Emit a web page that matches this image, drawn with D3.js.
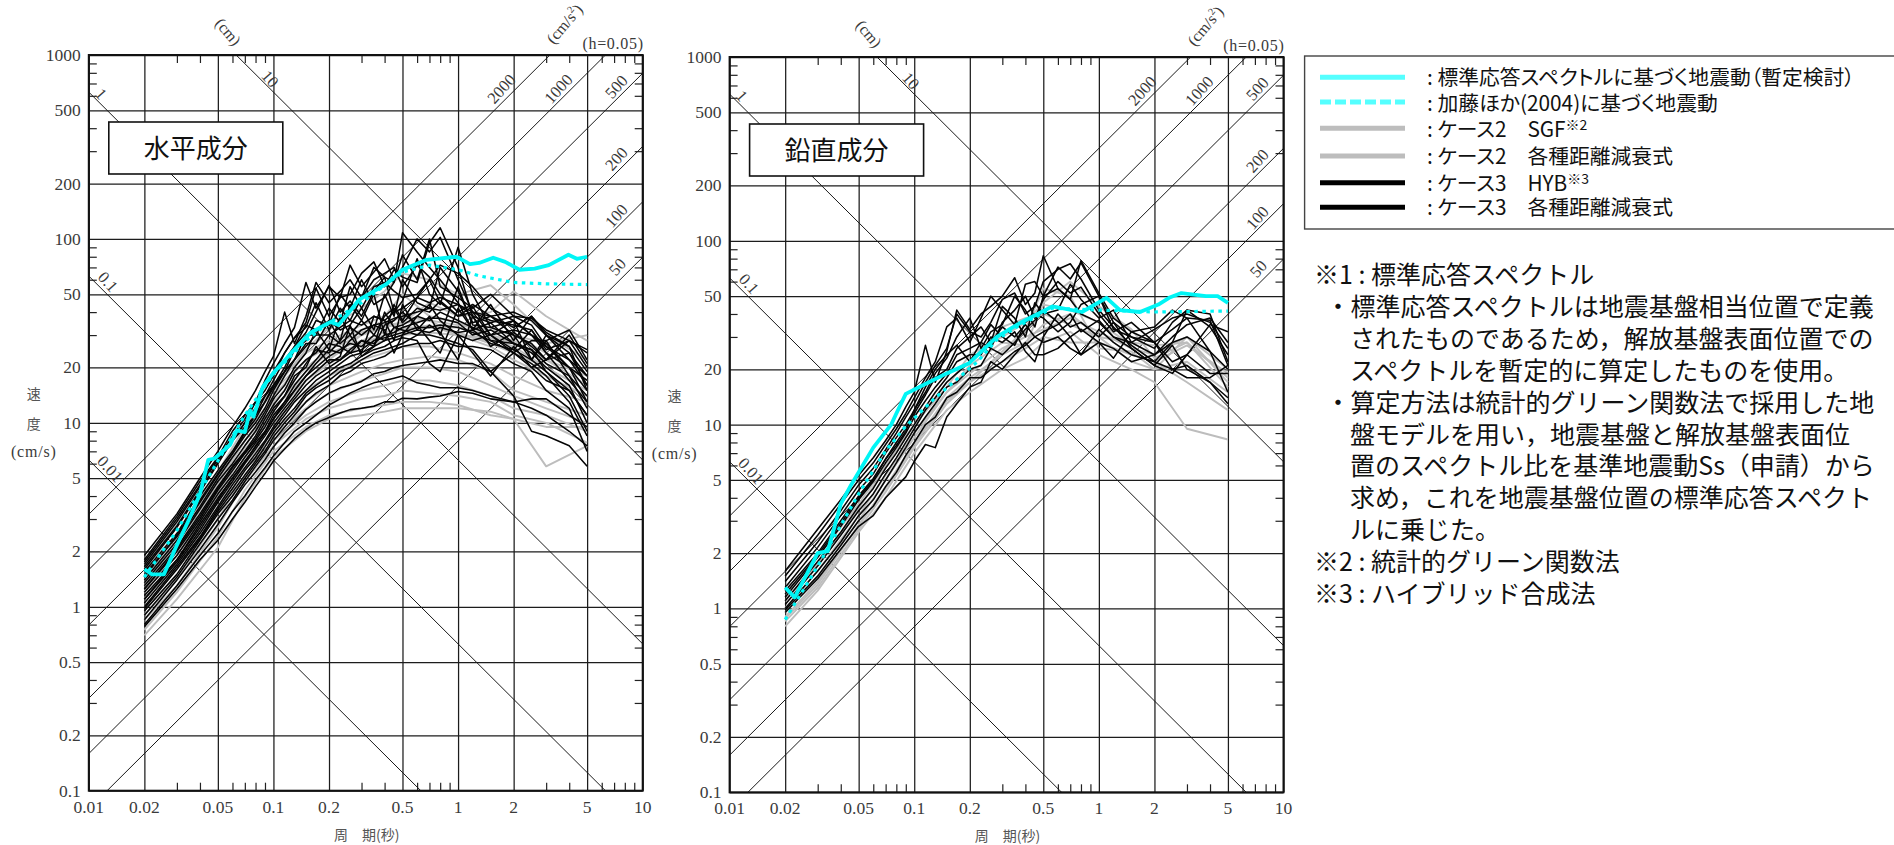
<!DOCTYPE html>
<html><head><meta charset="utf-8">
<script src="https://cdn.jsdelivr.net/npm/d3@7"></script>
<style>
html,body{margin:0;padding:0;background:#fff;overflow:hidden}
svg{display:block}
.num{font-family:"Liberation Serif",serif;fill:#3a3a3a}
.jp{font-family:"Noto Sans CJK JP",sans-serif;fill:#111}
.axis-t{font-family:"Noto Sans CJK JP",sans-serif;fill:#555;font-size:14px}
</style></head><body>
<svg id="c" width="1894" height="845"></svg>
<script>
// ---------- axis data ----------
const xMajor=[0.01,0.02,0.05,0.1,0.2,0.5,1,2,5,10];
const xMinor=[0.03,0.04,0.06,0.07,0.08,0.09,0.3,0.4,0.6,0.7,0.8,0.9,3,4,6,7,8,9];
const yMajor=[0.1,0.2,0.5,1,2,5,10,20,50,100,200,500,1000];
const yMinor=[0.3,0.4,0.6,0.7,0.8,0.9,3,4,6,7,8,9,30,40,60,70,80,90,300,400,600,700,800,900];
const accelLines=[2000,1000,500,200,100,50];
const dispLines=[0.01,0.1,1,10];
const periodsFine=[.02,.03,.04,.05,.06,.07,.08,.09,.1,.115,.13,.15,.17,.2,.23,.26,.3,.35,.4,.45,.5,.6,.7,.8,1,1.2,1.5,2,2.5,3,4,5];
const periodsCoarse=[.02,.03,.05,.07,.1,.15,.2,.3,.4,.5,.7,1,1.5,2,3,5];

// ---------- horizontal panel ----------
const hBlack=[
[1.9,3.2,5,7,9.5,12,15,19,23,40,27,38,58,45,52,60,48,70,62,58,108,85,70,60,45,32,35,27,25,19,15,11],
[1.8,3.1,4.8,6.5,9,11,13,17,21,27,33,58,42,55,48,72,55,66,78,60,70,100,85,102,60,40,30,36,30,24,17,13],
[1.7,2.9,4.5,6.3,8,10,13,15,18,24,29,35,54,38,48,50,65,75,55,68,62,58,95,115,70,38,28,24,28,28,18,14],
[1.6,2.7,4.2,6,8,9.5,11,14,17,22,26,31,40,56,40,46,38,52,62,40,46,78,50,44,90,50,33,30,22,30,24,16],
[1.55,2.5,4,5.5,7,9,11,13,16,19,25,28,36,34,50,42,60,44,48,58,82,60,100,55,48,42,50,38,34,26,20,17],
[1.5,2.4,3.7,5.2,6.8,8.5,10,12,15,19,22,30,30,42,35,55,42,32,50,38,60,45,42,70,52,35,38,40,36,30,22,18],
[1.4,2.3,3.5,5,6.5,8,9.5,11.5,14,18,22,27,27,36,28,44,36,50,30,44,36,48,60,45,38,43,30,25,32,25,28,20],
[1.35,2.2,3.4,4.8,6,7.5,9,11,13.5,16,20,24,32,25,38,30,24,38,36,28,44,32,38,30,55,34,33,36,22,28,32,22],
[1.3,2.1,3.2,4.5,5.8,7,8.5,10.5,12.5,15,19,22,24,30,27,30,36,30,38,42,35,42,40,46,38,40,36,34,32,24,20,13],
[1.25,2,3,4.3,5.5,6.8,8,9.5,11.5,14,17,21,25,24,28,33,30,34,32,24,30,38,44,36,30,24,18,26,20,22,28,24],
[1.2,1.9,2.9,4.1,5.2,6.5,7.8,9,11,13,16,19,22,27,26,24,28,26,34,36,40,34,28,24,42,32,44,28,38,30,26,15],
[1.15,1.8,2.8,3.9,5,6.2,7.4,8.8,10.5,13,15,18,20,23,25,27,26,30,28,33,34,38,36,40,36,33,30,32,30,26,22,16],
[1.1,1.75,2.6,3.7,4.8,6,7.2,8.5,10,12,14,17,19,22,22,25,28,27,30,31,33,35,37,37,35,30,32,27,24,20,16,10],
[1.05,1.7,2.5,3.5,4.6,5.7,6.8,8,9.5,11.5,13.5,16,18,20,22,24,25,28,29,30,31,33,33,34,33,31,28,27,25,21,18,12],
[1,1.65,2.4,3.4,4.4,5.5,6.5,7.8,9.2,11,13,15,17,19,21,23,24,26,28,29,30,32,31,33,31,32,27,25,22,19,14,9],
[.98,1.6,2.35,3.3,4.2,5.2,6.2,7.4,8.8,10.5,12,14.5,16,18,20,21,23,25,26,28,29,28,21,19,30,28,30,24,20,17,15,11],
[.95,1.5,2.3,3.2,4,5,6,7,8.4,10,11.5,14,15.5,17,19,20,22,24,25,26,27,30,30,29,27,25,19,24,21,18,13,8.5],
[.9,1.45,2.2,3,3.8,4.8,5.8,6.8,8,9.5,11,13,14.5,16,18,19,21,22,23,25,26,27,27,28,26,26,25,21,19,15,12,7],
[.8,1.3,1.9,2.5,3.3,4,4.9,5.7,6.6,7.8,9,10,11,12.5,13.5,14.5,15.5,16.5,17,17.5,18,16.5,16,15.5,15.5,15,14,13,12,11,9,7.5],
[.78,1.25,1.8,2.3,3,3.7,4.5,5.3,6.2,7.2,8.2,9.2,10,10.7,11.3,11.8,12,12.3,13,13,13.6,13.5,13.8,14,14.8,14.5,13.5,13,13.5,13.5,11,9.5],
[.85,1.4,2.05,2.8,3.7,4.6,5.4,6.3,7.4,8.8,10,11.8,13,14.5,15.5,16,16.8,18.5,19,20,20.5,21,21.5,22,21,21,19,14,9,8.5,7.5,5.8],
[1.45,2.45,3.8,5.3,6.8,8.8,10.5,13,15.5,19,22,26,30,30,33,36,34,38,36,40,42,48,45,48,44,40,38,30,27,22,24,18],
[1.65,2.75,4.3,6.1,8,10,12,14,16,20,26,34,32,36,32,34,42,55,58,52,48,50,60,72,65,55,42,36,30,27,20,15],
[1.75,3,4.6,6.4,8.5,10.5,13,16,19,24,29,33,45,32,42,36,48,60,65,70,55,72,62,50,40,44,38,33,38,31,26,19],
[1.25,2.05,3.1,4.4,5.7,6.9,8.2,10,12,14,18,20,26,21,23,34,23,26,40,33,32,30,34,31,22,38,26,31,26,22,30,21],
[1.1,1.8,2.7,3.8,5,6.1,7.5,8.8,10.5,12.5,15,18,21,25,24,28,32,34,35,37,38,40,42,41,44,38,35,38,37,32,28,25]
];
const hGray=[
[.7,1.1,2.1,3.9,6.5,9,10.5,11,11.5,12,12,12,11.5,10.5,9.5,9.5],
[.75,1.2,2.4,4.3,7,9.5,11,12,12.5,13,13,12.5,11,10.5,5.8,7.5],
[.85,1.3,2.7,4.8,7.5,10.5,12,13.5,14,15,14.5,14,13,11,10,7.8],
[.9,1.4,3,5.2,8,11,13,15,16,17,17,16,14,12,11,9],
[1,1.6,3.2,5.6,8.5,12,14.5,17,18.5,20,20,19,16,14,12,10],
[1.1,1.7,3.5,6,9,13,16,19,21,22,23,22,19,15,13,11],
[1.2,1.9,3.8,6.5,10,15,18,22,24,26,26,24,21,18,15,13],
[1.3,2,4.2,7.2,11,17,21,26,28,30,31,30,26,22,18,14],
[1.4,2.2,4.6,8,12,19,24,28,31,33,33,31,27,24,20,15],
[1.5,2.4,5,8.5,14,22,26,31,34,38,36,30,29,26,20,15],
[1.6,2.5,5.4,9.5,16,24,28,34,38,50,38,35,30,27,22,18],
[1.55,2.4,5.2,9,15,25,33,42,52,65,60,50,56,44,30,22],
[1.7,2.8,6,10.5,15,22,27,32,36,32,34,30,28,30,27,30],
[1.2,2,4,7,11,17,22,30,34,35,45,38,40,52,38,28],
[1.45,2.3,4.8,8,13,20,25,30,33,35,36,34,32,30,24,17],
[1.35,2.1,4.4,7.5,12,18,23,27,30,32,33,33,30,28,22,16]
];
const hCyanT=[.02,.022,.0255,.0296,.035,.04,.0444,.048,.0583,.0633,.07,.0747,.078,.0876,.0995,.125,.158,.204,.225,.25,.29,.41,.5,.675,.98,1.16,1.3,1.55,1.8,2.15,2.6,3.1,3.96,4.4,5];
const hCyanV=[1.6,1.5,1.5,2.1,3,4.1,6.3,6.4,7.6,9.1,8.9,11.7,10.8,15.7,18.6,24,30.8,35.4,34,38.6,46.6,57,68,77,80,73,74,79,75,68,69,72,82,78,80];
const hDashT=[.02,.03,.05,.07,.1,.15,.2,.3,.5,.7,1,1.3,2,3,5];
const hDashV=[1.45,2.6,6.2,11,18.5,28,35,45,66,72,68,63,58,57,56.5];

// ---------- vertical panel ----------
const vBlack=[
[1.6,2.7,3.9,5.3,6.6,8.2,10,12.5,15,27,17,25,42,33,40,44,50,63,45,52,83,55,48,40,36,30,28,33,38,40,36,26],
[1.5,2.5,3.7,5,6.2,7.8,9.5,11.5,14,18,22,34,38,28,38,50,42,35,58,60,50,72,62,76,50,36,30,26,36,42,34,24],
[1.4,2.3,3.4,4.7,5.8,7.3,9,11,13,17,21,26,40,32,30,36,48,52,40,44,60,70,75,62,42,34,27,22,28,42,40,22],
[1.3,2.15,3.2,4.4,5.4,7,8.5,10,12,15,19,23,30,38,26,32,35,50,42,34,50,55,48,78,52,38,32,28,22,24,35,32],
[1.25,2,3,4.1,5.1,6.5,8,9.5,11.5,14.5,18,20,26,30,34,28,44,38,30,46,40,42,58,48,38,42,28,24,30,35,38,28],
[1.15,1.9,2.8,3.9,4.9,6.2,7.5,9,11,13.5,16,19,24,26,28,35,30,27,36,40,38,32,36,45,50,33,30,28,20,21,17,13],
[1.1,1.8,2.6,3.6,4.5,5.8,7,8.5,10,12.5,15,18,22,24,24,30,28,32,25,22,30,40,34,36,30,36,26,21,27,20,17,14],
[1.05,1.7,2.5,3.4,4.2,5.4,6.6,8,9.5,12,14,17,19,22,25,28,34,30,35,30,28,30,26,24,28,23,32,34,42,38,25,20],
[1,1.6,2.3,3.2,3.9,5,6.2,7.5,9,11,13,16,17,20,21,26,24,28,33,37,42,36,30,24,33,28,24,22,20,18,18,21],
[.98,1.5,2.2,3,3.6,4.6,5.5,6.8,8,10,11,14,15,18,18,20,22,25,27,30,32,35,40,32,37,30,26,21,19,24,19,19],
[.95,1.45,2.1,2.8,3.2,4,4.6,5.2,6.3,7.8,7.5,11,13,16,17,22,20,24,28,24,24,26,30,33,28,26,22,24,28,30,25,15],
[1.2,1.95,2.9,4,5,6.5,7.7,9.2,12,16,20,24,27,22,28,26,36,42,50,38,48,60,52,56,40,32,36,28,33,38,37,21]
];
const vGray=[
[.8,1.25,2.6,4,7,12,15,20,23,28,32,24,20,17,9.5,8.3],
[.85,1.3,2.7,4.3,7.5,13,17,22,26,30,28,28,24,22,17,12],
[.9,1.4,2.8,4.6,8,14,18,24,28,35,40,30,22,20,30,20],
[.95,1.5,3,5,8.5,15,19,26,30,33,38,32,26,24,30,17],
[1,1.6,3.2,5.3,9,15,21,28,27,45,42,36,27,22,27,19],
[1.1,1.75,3.5,5.8,10,16,24,30,36,46,60,44,33,23,28,18],
[1.2,1.9,3.7,6,10,17,22,34,38,40,35,30,28,27,28,16],
[.88,1.35,2.85,4.5,7.8,13.5,17,25,33,55,50,26,25,20,22,15]
];
const vCyanT=[.02,.0225,.03,.034,.04,.0455,.06,.075,.08,.09,.12,.15,.197,.28,.37,.56,.81,1.1,1.3,1.67,2.1,2.4,2.8,3.8,4.4,5];
const vCyanV=[1.3,1.15,2,2.05,3.7,4.7,7.5,10,11.5,14.7,17,19,21.5,30,35.5,44,41,49,42,41,45,49,52,50,50,46];
const vDashT=[.02,.03,.05,.07,.09,.13,.22,.28,.36,.56,1,2,5];
const vDashV=[.87,1.7,4.2,7.2,9.8,14,22,29,34,43,42,41,41.5];

// ---------- text ----------
const legendItems=[": 標準応答スペクトルに基づく地震動（暫定検討）",": 加藤ほか(2004)に基づく地震動",": ケース2　SGF",": ケース2　各種距離減衰式",": ケース3　HYB",": ケース3　各種距離減衰式"];
const legendSup=["","","※2","","※3",""];
const noteLines=["※1 : 標準応答スペクトル","・標準応答スペクトルは地震基盤相当位置で定義","されたものであるため，解放基盤表面位置での","スペクトルを暫定的に算定したものを使用。","・算定方法は統計的グリーン関数法で採用した地","盤モデルを用い，地震基盤と解放基盤表面位","置のスペクトル比を基準地震動Ss（申請）から","求め，これを地震基盤位置の標準応答スペクト","ルに乗じた。","※2 : 統計的グリーン関数法","※3 : ハイブリッド合成法"];
const noteIndent=[0,1,2,2,1,2,2,2,2,0,0];

// ---------- drawing ----------
const svg=d3.select("#c");
const CYAN="#00f5f5",GRAY="#bdbdbd",BLACK="#050505";

function panel(p,idx){
  const g=svg.append("g");
  const x=d3.scaleLog().domain([0.01,10]).range([p.x0,p.x1]);
  const y=d3.scaleLog().domain([0.1,1000]).range([p.y1,p.y0]);
  const w=p.x1-p.x0,h=p.y1-p.y0;
  const id="clip"+idx;
  svg.append("clipPath").attr("id",id).append("rect").attr("x",p.x0).attr("y",p.y0).attr("width",w).attr("height",h);

  const style=(a,col,sw)=>{a.select(".domain").remove();a.selectAll("text").remove();a.selectAll("line").attr("stroke",col).attr("stroke-width",sw);};
  style(g.append("g").attr("transform",`translate(0,${p.y1})`).call(d3.axisBottom(x).tickValues(xMajor).tickSize(-h)),"#1c1c1c",1.25);
  style(g.append("g").attr("transform",`translate(${p.x0},0)`).call(d3.axisLeft(y).tickValues(yMajor).tickSize(-w)),"#1c1c1c",1.25);
  style(g.append("g").attr("transform",`translate(0,${p.y1})`).call(d3.axisBottom(x).tickValues(xMinor).tickSize(-8)),"#222",1.2);
  style(g.append("g").attr("transform",`translate(0,${p.y0})`).call(d3.axisTop(x).tickValues(xMinor).tickSize(-8)),"#222",1.2);
  style(g.append("g").attr("transform",`translate(${p.x0},0)`).call(d3.axisLeft(y).tickValues(yMinor).tickSize(-8)),"#222",1.2);
  style(g.append("g").attr("transform",`translate(${p.x1},0)`).call(d3.axisRight(y).tickValues(yMinor).tickSize(-8)),"#222",1.2);

  const diag=g.append("g").attr("clip-path",`url(#${id})`).attr("stroke","#1a1a1a").attr("stroke-width",1).attr("fill","none");
  const line=d3.line().x(d=>x(d[0])).y(d=>y(d[1]));
  accelLines.forEach(a=>diag.append("path").attr("d",line([0.01,100].map(T=>[T,a*T/(2*Math.PI)]))));
  dispLines.forEach(D=>diag.append("path").attr("d",line([0.001,100].map(T=>[T,2*Math.PI*D/T]))));

  const s=g.append("g").attr("clip-path",`url(#${id})`).attr("fill","none").attr("stroke-linejoin","round");
  const draw=(Ts,vs,col,sw,dash)=>s.append("path").attr("d",line(Ts.map((t,i)=>[t,vs[i]]))).attr("stroke",col).attr("stroke-width",sw).attr("stroke-dasharray",dash||null);
  p.gray.forEach(v=>draw(periodsCoarse,v,GRAY,1.9));
  p.black.forEach(v=>draw(periodsFine,v,BLACK,1.55));
  draw(p.dashT,p.dashV,CYAN,3.2,"3.5,4.5");
  draw(p.cyanT,p.cyanV,CYAN,3.8);

  g.append("rect").attr("x",p.x0).attr("y",p.y0).attr("width",w).attr("height",h).attr("fill","none").attr("stroke","#111").attr("stroke-width",2);

  g.selectAll(".xl").data(xMajor).join("text").attr("class","num").attr("x",d=>x(d)).attr("y",p.y1+22).attr("text-anchor","middle").attr("font-size",17.5).text(d=>d);
  g.selectAll(".yl").data(yMajor).join("text").attr("class","num").attr("x",p.x0-8).attr("y",d=>y(d)+6).attr("text-anchor","end").attr("font-size",17.5).text(d=>d);

  const rot=(t,dx,dy,a,fs)=>g.append("text").attr("class","num").attr("font-size",fs||14).attr("text-anchor","middle").attr("dominant-baseline","middle").attr("transform",`translate(${p.x0+dx},${p.y0+dy}) rotate(${a})`).text(t);
  [["1",11,40],["10",180,25],["0.1",18,228],["0.01",20,415]].forEach(d=>rot(d[0],d[1],d[2],48,16.5));
  [["2000",414,35],["1000",471,35],["500",529,33],["200",529,105],["100",529,162],["50",530,213]].forEach(d=>rot(d[0],d[1],d[2],-48,16.5));
  rot("(cm)",138,-22,50,16);
  const top=g.append("text").attr("class","num").attr("font-size",16).attr("text-anchor","middle").attr("dominant-baseline","middle").attr("transform",`translate(${p.x0+477},${p.y0-30}) rotate(-50)`).text("(cm/s");
  top.append("tspan").attr("font-size",10).attr("dy",-5).text("2");
  top.append("tspan").attr("dy",5).text(")");
  g.append("text").attr("class","num").attr("font-size",16).attr("letter-spacing",.7).attr("text-anchor","end").attr("x",p.x1+1).attr("y",p.y0-6).text("(h=0.05)");

  g.append("text").attr("class","axis-t").attr("x",p.x0+278).attr("y",p.y1+49).attr("text-anchor","middle").text("周　期(秒)");
  g.append("text").attr("class","axis-t").attr("x",p.x0-55).attr("y",p.y0+344).attr("text-anchor","middle").text("速");
  g.append("text").attr("class","axis-t").attr("x",p.x0-55).attr("y",p.y0+374).attr("text-anchor","middle").text("度");
  g.append("text").attr("class","num").attr("font-size",16).attr("letter-spacing",.8).attr("x",p.x0-55).attr("y",p.y0+402).attr("text-anchor","middle").text("(cm/s)");

  g.append("rect").attr("x",p.x0+20).attr("y",p.y0+67).attr("width",174).attr("height",52).attr("fill","#fff").attr("stroke","#111").attr("stroke-width",1.6);
  g.append("text").attr("class","jp").attr("font-size",26).attr("x",p.x0+107).attr("y",p.y0+103).attr("text-anchor","middle").text(p.title);
}

panel({x0:88.8,x1:642.7,y0:55,y1:790.7,title:"水平成分",black:hBlack,gray:hGray,cyanT:hCyanT,cyanV:hCyanV,dashT:hDashT,dashV:hDashV},0);
panel({x0:729.6,x1:1283.5,y0:57,y1:792.3,title:"鉛直成分",black:vBlack,gray:vGray,cyanT:vCyanT,cyanV:vCyanV,dashT:vDashT,dashV:vDashV},1);

// legend
const lg=svg.append("g");
lg.append("rect").attr("x",1304.6).attr("y",56).attr("width",640).attr("height",173).attr("fill","#fff").attr("stroke","#444").attr("stroke-width",1.4);
const legY=[77.3,102,128.3,156,182.7,207.3];
const legTextY=[84.5,110.5,137,164,190.5,215];
const legCol=["#55ffff","#55ffff","#bdbdbd","#bdbdbd","#000","#000"];
legendItems.forEach((t,i)=>{
  lg.append("line").attr("x1",1320).attr("x2",1405).attr("y1",legY[i]).attr("y2",legY[i]).attr("stroke",legCol[i]).attr("stroke-width",5).attr("stroke-dasharray",i==1?"11,4":null);
  const tx=lg.append("text").attr("class","jp").attr("font-size",20.8).attr("x",1427).attr("y",legTextY[i]).style("font-feature-settings",'"palt"').text(t);
  if(legendSup[i]) tx.append("tspan").attr("font-size",14).attr("dy",-7).text(legendSup[i]);
});

// notes
const indentX=[1314,1325.5,1350];
const nt=svg.append("g");
noteLines.forEach((t,i)=>{
  nt.append("text").attr("class","jp").attr("font-size",25).attr("x",indentX[noteIndent[i]]).attr("y",284+i*31.9).text(t);
});
</script>
</body></html>
